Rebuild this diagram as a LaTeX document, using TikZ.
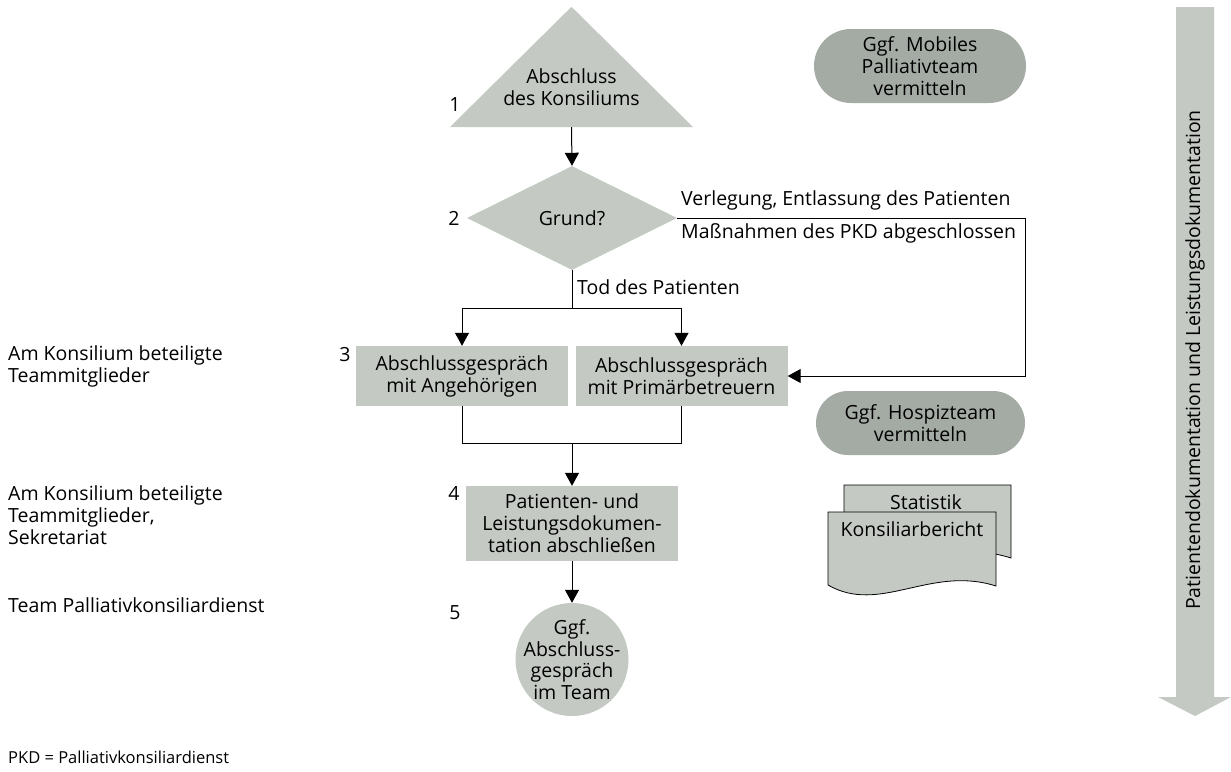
\documentclass[tikz,border=0pt]{standalone}
\usepackage{fontspec}
\setmainfont{Open Sans}
\usetikzlibrary{shapes.geometric,shapes.misc,arrows.meta,calc}
\definecolor{lightgrey}{HTML}{C4C9C4}
\definecolor{darkgrey}{HTML}{A4ABA5}
\begin{document}
\begin{tikzpicture}[x=1pt,y=-1pt,
  font=\fontsize{19.5}{22}\selectfont,
  conn/.style={line width=1pt,draw=black},
  arr/.style={conn,-{Triangle[length=13pt,width=14pt]}},
  stepbox/.style={fill=lightgrey,minimum width=212pt,align=center,inner sep=0pt},
  pill/.style={rounded rectangle,fill=darkgrey,minimum width=212pt,align=center,inner sep=0pt},
  lbl/.style={anchor=west,align=left,inner sep=0pt},
  num/.style={inner sep=0pt},
  ghost/.style={rectangle,inner sep=0pt}]
\useasboundingbox (0,0) rectangle (1231,771);

% big documentation arrow on the right
\fill[lightgrey] (1176,7) -- (1214,7) -- (1214,697) -- (1231,697) -- (1195,716)
  -- (1158,697) -- (1176,697) -- cycle;
\node[rotate=90,inner sep=0pt] (doku) at (1195,360)
  {Patientendokumentation und Leistungsdokumentation};

% 1: start triangle
\node[ghost,minimum width=243pt,minimum height=120pt] (start) at (571.5,67) {};
\fill[lightgrey] (start.south west) -- (start.south east) -- (start.north) -- cycle;
\node[align=center,inner sep=0pt] (starttxt) at (571.5,87) {Abschluss\\des Konsiliums};

% 2: decision
\node[diamond,fill=lightgrey,minimum width=210pt,minimum height=104pt,inner sep=0pt]
  (grund) at (572,218) {Grund?};

% 3: talks
\node[stepbox,minimum height=60pt] (angeh) at (462,376) {Abschlussgespräch\\mit Angehörigen};
\node[stepbox,minimum height=60pt] (primaer) at (681.5,376) {Abschlussgespräch\\mit Primärbetreuern};

% 4: documentation
\node[stepbox,minimum height=75pt] (doc) at (572,523.5)
  {Patienten- und\\Leistungsdokumen-\\tation abschließen};

% 5: team talk
\node[circle,fill=lightgrey,minimum size=113pt,inner sep=0pt] (team) at (572,659.5) {};
\node[align=center,inner sep=0pt,font=\fontsize{19.5}{21.5}\selectfont] (teamtxt) at (team.center)
  {Ggf.\\Abschluss-\\gespräch\\im Team};

% step numbers
\node[num] (n1) at (455,105) {1};
\node[num] (n2) at (454,218) {2};
\node[num] (n3) at (345,355) {3};
\node[num] (n4) at (454,493) {4};
\node[num] (n5) at (455,613) {5};

% optional referrals
\node[pill,minimum height=74pt] (mobil) at (920,66) {Ggf. Mobiles\\Palliativteam\\vermitteln};
\node[pill,minimum height=64pt,minimum width=209pt] (hospiz) at (920.5,423) {Ggf. Hospizteam\\vermitteln};

% reports (stacked documents)
\fill[lightgrey,draw=black,line width=0.8pt] (844,485) -- (1011,485) -- (1011,558)
  .. controls (945,537) and (895,579) .. (844,558) -- cycle;
\node[inner sep=0pt] (statistik) at (926,502) {Statistik};
\fill[lightgrey,draw=black,line width=0.8pt] (828,512) -- (996,512) -- (996,586)
  .. controls (930,565) and (880,615) .. (828,585) -- cycle;
\node[inner sep=0pt] (bericht) at (912,529) {Konsiliarbericht};

% roles
\node[lbl] (r3) at (8,366) {Am Konsilium beteiligte\\Teammitglieder};
\node[lbl] (r4) at (8,515) {Am Konsilium beteiligte\\Teammitglieder,\\Sekretariat};
\node[lbl] (r5) at (8,605) {Team Palliativkonsiliardienst};
\node[lbl,font=\fontsize{16.5}{19}\selectfont] (abk) at (8,757) {PKD = Palliativkonsiliardienst};

% connectors
\coordinate (split) at (572,308);
\coordinate (merge) at (572,443);
\coordinate (turn) at (1025,218);
\draw[arr] (start.south) -- (grund.north);
\draw[conn] (grund.south) -- (split);
\draw[arr] (split) -| (angeh.north);
\draw[arr] (split) -| (primaer.north);
\draw[arr] (grund.east) -- (turn) |- (primaer.east);
\draw[conn] (angeh.south) |- (merge);
\draw[conn] (primaer.south) |- (merge);
\draw[arr] (merge) -- (doc.north);
\draw[arr] (doc.south) -- (team.north);

% connector labels
\node[lbl] (lverl) at (681,200) {Verlegung, Entlassung des Patienten};
\node[lbl] (lmass) at (681,233) {Maßnahmen des PKD abgeschlossen};
\node[lbl] (ltod) at (577,287) {Tod des Patienten};
\end{tikzpicture}
\end{document}
